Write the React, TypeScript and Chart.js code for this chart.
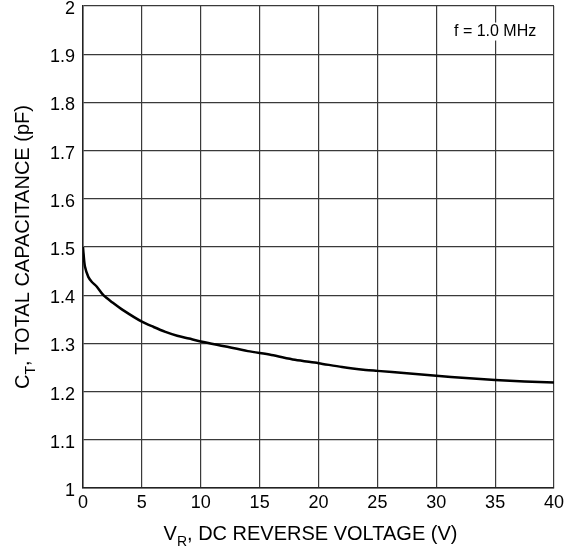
import React, { useEffect, useRef } from "react";
import { Chart, registerables } from "chart.js";

Chart.register(...registerables);

const voltage = [0, 0.05, 0.17, 0.45, 0.74, 1.16, 1.73, 2.5, 3.4, 5, 6, 7, 8, 9, 10, 12, 14, 16, 18, 20, 22, 24, 25, 27.5, 30, 32.5, 35, 37.5, 40];
const capacitance = [1.5, 1.485, 1.459, 1.438, 1.428, 1.418, 1.4, 1.385, 1.369, 1.345, 1.334, 1.324, 1.316, 1.31, 1.304, 1.294, 1.284, 1.276, 1.266, 1.259, 1.251, 1.245, 1.243, 1.238, 1.233, 1.228, 1.224, 1.221, 1.219];
const xTicks = [0, 5, 10, 15, 20, 25, 30, 35, 40];
const yTicks = [1, 1.1, 1.2, 1.3, 1.4, 1.5, 1.6, 1.7, 1.8, 1.9, 2];
const annotationText = "f = 1.0 MHz";

const FONT = "'Liberation Sans', Arial, sans-serif";

const titlesPlugin = {
  id: "customTitles",
  afterDraw(chart: any) {
    const ctx = chart.ctx;
    const area = chart.chartArea;
    ctx.save();
    ctx.fillStyle = "#000";
    const main = 20;
    const sub = 14;
    const parts = [
      { t: "V", s: main, dy: 0 },
      { t: "R", s: sub, dy: 6 },
      { t: ", DC REVERSE VOLTAGE (V)", s: main, dy: 0 },
    ];
    let total = 0;
    parts.forEach((p) => {
      ctx.font = `${p.s}px ${FONT}`;
      total += ctx.measureText(p.t).width;
    });
    let x = (area.left + area.right) / 2 - total / 2 - 8;
    const yBase = 540;
    ctx.textBaseline = "alphabetic";
    ctx.textAlign = "left";
    parts.forEach((p) => {
      ctx.font = `${p.s}px ${FONT}`;
      ctx.fillText(p.t, x, yBase + p.dy);
      x += ctx.measureText(p.t).width;
    });
    const yparts = [
      { t: "C", s: main, dy: 0 },
      { t: "T", s: sub, dy: 6 },
      { t: ", TOTAL CAPACITANCE (pF)", s: main, dy: 0 },
    ];
    let ytotal = 0;
    yparts.forEach((p) => {
      ctx.font = `${p.s}px ${FONT}`;
      ytotal += ctx.measureText(p.t).width;
    });
    ctx.translate(29, (area.top + area.bottom) / 2);
    ctx.rotate(-Math.PI / 2);
    let yx = -ytotal / 2;
    yparts.forEach((p) => {
      ctx.font = `${p.s}px ${FONT}`;
      ctx.fillText(p.t, yx, p.dy);
      yx += ctx.measureText(p.t).width;
    });
    ctx.restore();

    ctx.save();
    ctx.font = `16px ${FONT}`;
    const w = ctx.measureText(annotationText).width;
    const cx = chart.scales.x.getPixelForValue(35);
    const cy = chart.scales.y.getPixelForValue(1.947);
    ctx.fillStyle = "#fff";
    ctx.fillRect(cx - w / 2 - 2, cy - 9, w + 4, 18);
    ctx.fillStyle = "#000";
    ctx.textAlign = "center";
    ctx.textBaseline = "middle";
    ctx.fillText(annotationText, cx, cy);
    ctx.restore();
  },
};

export default function App() {
  const ref = useRef<HTMLCanvasElement>(null);
  useEffect(() => {
    document.body.style.margin = "0";
    const chart = new Chart(ref.current!, {
      type: "line",
      data: {
        datasets: [
          {
            data: voltage.map((v, i) => ({ x: v, y: capacitance[i] })),
            borderColor: "#000",
            borderWidth: 2.5,
            pointRadius: 0,
            tension: 0.3,
            fill: false,
          },
        ],
      },
      options: {
        animation: false,
        responsive: false,
        layout: { padding: { left: 0, right: 23, top: 6, bottom: 0 } },
        plugins: { legend: { display: false }, tooltip: { enabled: false } },
        scales: {
          x: {
            type: "linear",
            min: 0,
            max: 40,
            afterBuildTicks: (axis: any) => {
              axis.ticks = xTicks.map((v) => ({ value: v }));
            },
            afterFit: (axis: any) => {
              axis.height = 60;
              axis.paddingLeft = 0;
              axis.paddingRight = 0;
            },
            grid: { color: "#3a3a3a", lineWidth: 1.2, drawTicks: false },
            border: { color: "#222", width: 1.5 },
            ticks: {
              color: "#000",
              font: { family: FONT, size: 18 },
              padding: 4,
              maxRotation: 0,
            },
          },
          y: {
            type: "linear",
            min: 1,
            max: 2,
            afterBuildTicks: (axis: any) => {
              axis.ticks = yTicks.map((v) => ({ value: v }));
            },
            afterFit: (axis: any) => {
              axis.width = 83;
              axis.paddingTop = 0;
              axis.paddingBottom = 0;
            },
            grid: { color: "#3a3a3a", lineWidth: 1.2, drawTicks: false },
            border: { color: "#222", width: 1.5 },
            ticks: {
              color: "#000",
              font: { family: FONT, size: 18 },
              padding: 8,
              labelOffset: 3,
              callback: (v: any) => String(Math.round(Number(v) * 10) / 10),
            },
          },
        },
      },
      plugins: [titlesPlugin],
    });
    return () => chart.destroy();
  }, []);
  return <canvas ref={ref} width={577} height={548} style={{ display: "block" }} />;
}
